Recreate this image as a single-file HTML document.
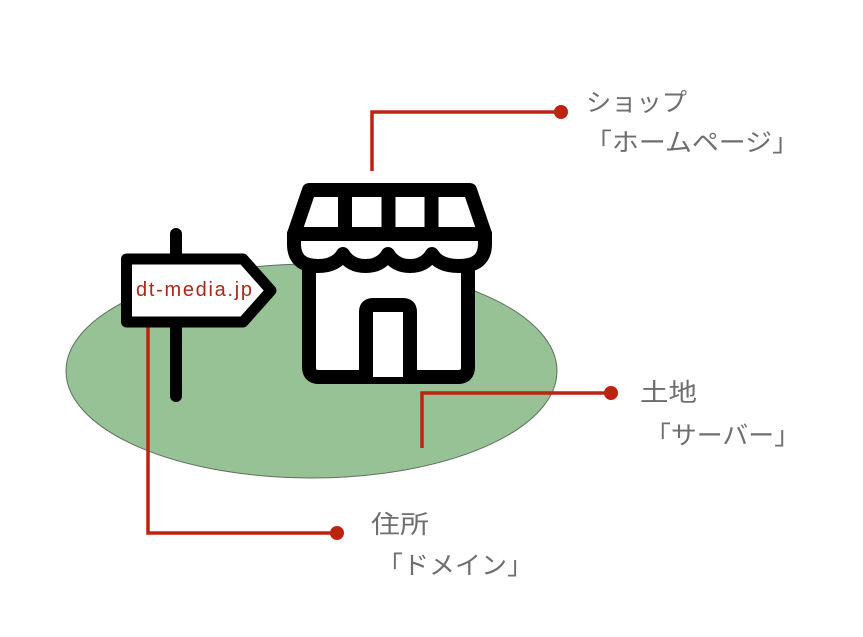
<!DOCTYPE html>
<html><head><meta charset="utf-8"><style>
html,body{margin:0;padding:0;background:#fff;}
body{width:863px;height:637px;overflow:hidden;}
svg{display:block;}
.lbl{font-family:"Liberation Sans","Noto Sans CJK JP",sans-serif;font-size:25px;fill:#6e6e6e;}
</style></head><body>
<svg width="863" height="637" viewBox="0 0 863 637" xmlns="http://www.w3.org/2000/svg">
  <ellipse cx="311.5" cy="371" rx="245.5" ry="107" fill="#97c295" stroke="#5f705f" stroke-width="1"/>

  <!-- red connectors -->
  <g stroke="#bd2410" stroke-width="3.5" fill="none">
    <polyline points="372,171 372,112 561,112"/>
    <polyline points="422,448 422,393 611,393"/>
    <polyline points="148,322 148,533 337,533"/>
  </g>
  <g fill="#bd2410">
    <circle cx="561" cy="112" r="7"/>
    <circle cx="611" cy="393" r="7"/>
    <circle cx="337" cy="533" r="7"/>
  </g>

  <!-- signpost -->
  <line x1="176" y1="234" x2="176" y2="396" stroke="#000" stroke-width="12" stroke-linecap="round"/>
  <path d="M126.5,259 L243,259 L271,290.5 L243,322 L126.5,322 Z" fill="#fff" stroke="#000" stroke-width="11" stroke-linejoin="round"/>
  <text x="136" y="296" font-family="Liberation Sans, sans-serif" font-size="20" fill="#a8291b" textLength="116" lengthAdjust="spacing">dt-media.jp</text>

  <!-- store -->
  <g stroke="#000" stroke-width="14" stroke-linejoin="round" stroke-linecap="round">
    <path d="M309,255 L309,367 Q309,377 319,377 L458,377 Q468,377 468,367 L468,255" fill="#fff"/>
    <path d="M366,377 L366,312 Q366,305 373,305 L403,305 Q410,305 410,312 L410,377" fill="#fff"/>
    <path d="M294,234 L294,244 Q294,266 318,266 Q336,266 343,254 Q350,266 365.5,266 Q381,266 388,254 Q395,266 410,266 Q425,266 432,254 Q439,266 459,266 Q485,266 485,244 L485,234 Z" fill="#fff"/>
    <path d="M309,190 L470,190 L485,234 L294,234 Z" fill="#fff"/>
    <line x1="345" y1="190" x2="345" y2="234"/>
    <line x1="388.5" y1="190" x2="388.5" y2="234"/>
    <line x1="431.5" y1="190" x2="431.5" y2="234"/>
  </g>

  <!-- labels -->
  <text class="lbl" x="586" y="111" textLength="101" lengthAdjust="spacingAndGlyphs">ショップ</text>
  <text class="lbl" x="585" y="151" textLength="214" lengthAdjust="spacingAndGlyphs">「ホームページ」</text>
  <text class="lbl" x="640" y="401" textLength="57" lengthAdjust="spacingAndGlyphs">土地</text>
  <text class="lbl" x="645" y="444" textLength="155" lengthAdjust="spacingAndGlyphs">「サーバー」</text>
  <text class="lbl" x="371" y="533" textLength="58" lengthAdjust="spacingAndGlyphs">住所</text>
  <text class="lbl" x="377" y="574" textLength="156" lengthAdjust="spacingAndGlyphs">「ドメイン」</text>
</svg>
</body></html>
